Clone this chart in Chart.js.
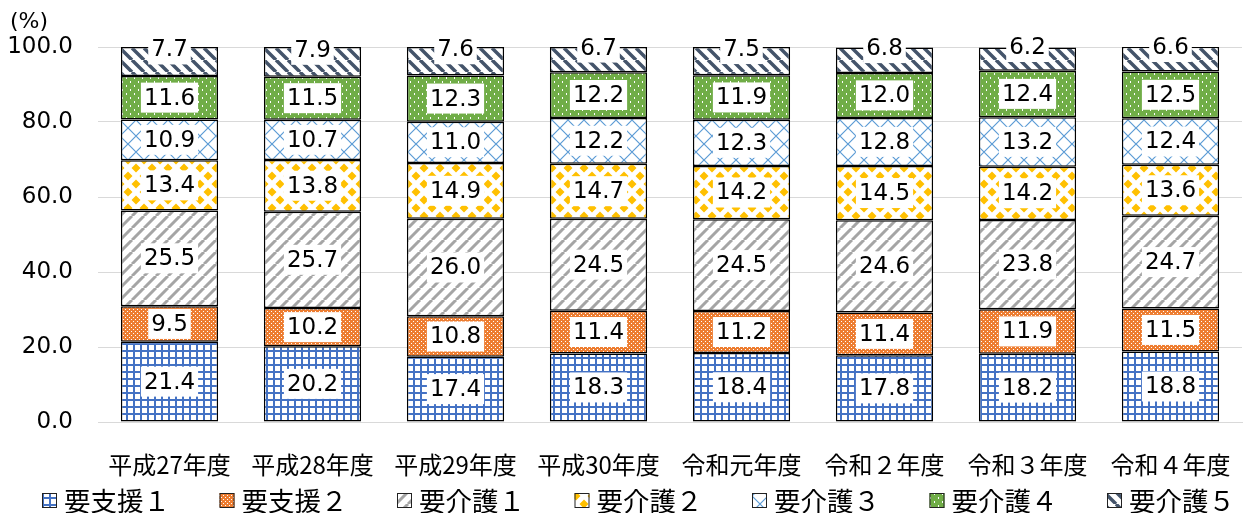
<!DOCTYPE html>
<html lang="ja">
<head>
<meta charset="utf-8">
<title>要介護度別構成比</title>
<script src="https://cdn.jsdelivr.net/npm/chart.js@4.4.1/dist/chart.umd.min.js"></script>
<style>
  html, body { margin: 0; padding: 0; background: #fff; }
  canvas { display: block; }
</style>
</head>
<body>
<canvas id="chart" width="1244" height="513"></canvas>
<script>
// Data (%)
const years = ["平成27年度", "平成28年度", "平成29年度", "平成30年度", "令和元年度", "令和２年度", "令和３年度", "令和４年度"];
const levels = ["要支援１", "要支援２", "要介護１", "要介護２", "要介護３", "要介護４", "要介護５"];

const shien1 = [21.4, 20.2, 17.4, 18.3, 18.4, 17.8, 18.2, 18.8];
const shien2 = [9.5, 10.2, 10.8, 11.4, 11.2, 11.4, 11.9, 11.5];
const kaigo1 = [25.5, 25.7, 26.0, 24.5, 24.5, 24.6, 23.8, 24.7];
const kaigo2 = [13.4, 13.8, 14.9, 14.7, 14.2, 14.5, 14.2, 13.6];
const kaigo3 = [10.9, 10.7, 11.0, 12.2, 12.3, 12.8, 13.2, 12.4];
const kaigo4 = [11.6, 11.5, 12.3, 12.2, 11.9, 12.0, 12.4, 12.5];
const kaigo5 = [7.7, 7.9, 7.6, 6.7, 7.5, 6.8, 6.2, 6.6];

const yTicks = [0, 20, 40, 60, 80, 100];

const series = [shien1, shien2, kaigo1, kaigo2, kaigo3, kaigo4, kaigo5];

const CJK = '"Noto Sans CJK JP", sans-serif';
const NUM = '"DejaVu Sans", Verdana, sans-serif';

const ctx = document.getElementById("chart").getContext("2d");

// pattern tiles (Excel style hatch fills)
function tile(size, draw) {
  const c = document.createElement("canvas");
  c.width = c.height = size;
  const g = c.getContext("2d");
  draw(g, size);
  return ctx.createPattern(c, "repeat");
}

function stripes(color, width, dir) {
  return (g, s) => {
    g.fillStyle = "#fff";
    g.fillRect(0, 0, s, s);
    g.strokeStyle = color;
    g.lineWidth = width;
    g.beginPath();
    for (let k = -1; k <= 1; k++) {
      if (dir === "/") { g.moveTo(k * s, s); g.lineTo(k * s + s, 0); }
      else { g.moveTo(k * s, 0); g.lineTo(k * s + s, s); }
    }
    g.stroke();
  };
}

const fills = [
  // 要支援１ blue grid
  tile(7, (g, s) => {
    g.fillStyle = "#fff"; g.fillRect(0, 0, s, s);
    g.fillStyle = "#4472C4";
    g.fillRect(0, 0, 2, s);
    g.fillRect(0, 0, s, 2);
  }),
  // 要支援２ orange dots
  tile(4, (g, s) => {
    g.fillStyle = "#ED7D31"; g.fillRect(0, 0, s, s);
    g.fillStyle = "#fff";
    g.fillRect(1, 1, 1, 1);
    g.fillRect(3, 3, 1, 1);
  }),
  // 要介護１ gray /
  tile(12, stripes("#A5A5A5", 3, "/")),
  // 要介護２ gold diamonds
  tile(16, (g, s) => {
    g.fillStyle = "#fff"; g.fillRect(0, 0, s, s);
    g.fillStyle = "#FFC000";
    const r = 4.5;
    g.beginPath();
    [[0, 0], [s, 0], [0, s], [s, s], [s / 2, s / 2]].forEach(([cx, cy]) => {
      g.moveTo(cx, cy - r); g.lineTo(cx + r, cy); g.lineTo(cx, cy + r); g.lineTo(cx - r, cy); g.closePath();
    });
    g.fill();
  }),
  // 要介護３ light blue X
  tile(16, (g, s) => {
    g.fillStyle = "#fff"; g.fillRect(0, 0, s, s);
    g.strokeStyle = "#5B9BD5"; g.lineWidth = 1.2;
    g.beginPath();
    g.moveTo(0, 0); g.lineTo(s, s);
    g.moveTo(s, 0); g.lineTo(0, s);
    g.stroke();
  }),
  // 要介護４ green with white dots
  tile(8, (g, s) => {
    g.fillStyle = "#70AD47"; g.fillRect(0, 0, s, s);
    g.fillStyle = "#fff";
    g.fillRect(2, 1, 1, 2);
    g.fillRect(6, 5, 1, 2);
  }),
  // 要介護５ navy \
  tile(12, stripes("#44546A", 3.5, "\\"))
];

// value labels in white boxes, top series nudged up like the original
const segLabels = {
  id: "segLabels",
  afterDatasetsDraw(chart) {
    const c = chart.ctx;
    const last = chart.data.datasets.length - 1;
    c.save();
    c.font = "23px " + NUM;
    c.textAlign = "center";
    c.textBaseline = "middle";
    chart.data.datasets.forEach((ds, i) => {
      chart.getDatasetMeta(i).data.forEach((bar, j) => {
        const txt = ds.data[j].toFixed(1);
        const y = (bar.y + bar.base) / 2 + (i === last ? -12 : 0);
        const w = c.measureText(txt).width + 6;
        c.fillStyle = "#fff";
        c.fillRect(bar.x - w / 2, y - 15, w, 30);
        c.fillStyle = "#000";
        c.fillText(txt, bar.x, y + 1);
      });
    });
    c.restore();
  }
};

// unit + legend
const extras = {
  id: "extras",
  afterDraw(chart) {
    const c = chart.ctx;
    c.save();
    c.fillStyle = "#000";
    c.font = "22px " + NUM;
    c.textAlign = "left";
    c.textBaseline = "middle";
    c.fillText("(%)", 10, 22);

    c.font = "26.5px " + CJK;
    let x = 42;
    chart.data.datasets.forEach((ds) => {
      c.fillStyle = ds.backgroundColor;
      c.fillRect(x, 493, 15, 15);
      c.strokeStyle = "#222";
      c.lineWidth = 1;
      c.strokeRect(x + 0.5, 493.5, 14, 14);
      c.fillStyle = "#000";
      c.fillText(ds.label, x + 22, 501);
      x += 177.5;
    });
    c.restore();
  }
};

new Chart(ctx, {
  type: "bar",
  data: {
    labels: years,
    datasets: levels.map((name, i) => ({
      label: name,
      data: series[i],
      backgroundColor: fills[i],
      borderColor: "#000",
      borderWidth: 1.5,
      borderSkipped: false,
      barPercentage: 0.68,
      categoryPercentage: 1
    }))
  },
  options: {
    responsive: false,
    animation: false,
    devicePixelRatio: 1,
    layout: { padding: { top: 47, right: 2, left: 0, bottom: 0 } },
    plugins: {
      legend: { display: false },
      tooltip: { enabled: false }
    },
    scales: {
      x: {
        stacked: true,
        grid: { display: false },
        border: { display: true, color: "#d9d9d9" },
        ticks: { color: "#000", font: { family: CJK, size: 24 }, padding: 20, maxRotation: 0 },
        afterFit(s) {
          s.height = 91;
          s.paddingLeft = 0;
          s.paddingRight = 0;
        }
      },
      y: {
        stacked: true,
        min: 0,
        max: 100,
        grid: { color: "#d9d9d9", drawTicks: false },
        border: { display: false },
        afterBuildTicks(s) { s.ticks = yTicks.map(v => ({ value: v })); },
        ticks: {
          color: "#000",
          font: { family: NUM, size: 23 },
          padding: 25,
          callback: v => v.toFixed(1)
        },
        afterFit(s) { s.width = 98; }
      }
    }
  },
  plugins: [segLabels, extras]
});
</script>
</body>
</html>
